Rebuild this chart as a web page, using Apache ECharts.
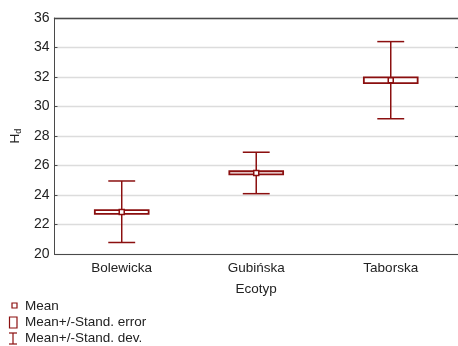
<!DOCTYPE html>
<html><head><meta charset="utf-8">
<script src="https://cdn.jsdelivr.net/npm/echarts@6/dist/echarts.min.js"></script>
<style>html,body{margin:0;padding:0;background:#fff}#c{width:458px;height:346px}</style>
</head><body><div id="c"></div>
<script>
const categories = ['Bolewicka', 'Gubińska', 'Taborska'];
const means  = [22.85, 25.50, 31.78];
const seLow  = [22.72, 25.40, 31.59];
const seHigh = [22.97, 25.61, 31.97];
const sdLow  = [20.78, 24.09, 29.17];
const sdHigh = [24.95, 26.90, 34.40];
const yTicks = { min: 20, max: 36, interval: 2 };

const RED = '#8b0f0f';
const AX = '#4a4a4a';
const TXT = '#222';
const FONT = 'Liberation Sans, Arial, sans-serif';

const chart = echarts.init(document.getElementById('c'));
const data = categories.map((c, i) => [i, means[i], seLow[i], seHigh[i], sdLow[i], sdHigh[i]]);

chart.setOption({
  animation: false,
  textStyle: { fontFamily: FONT },
  grid: { left: 52, right: 0, top: 18, bottom: 92 },
  xAxis: [{
    type: 'category', data: categories, position: 'bottom',
    name: 'Ecotyp', nameLocation: 'middle', nameGap: 28,
    nameTextStyle: { fontSize: 13.5, color: TXT, fontFamily: FONT },
    axisLine: { lineStyle: { color: AX, width: 1 } },
    axisTick: { alignWithLabel: true, inside: true, length: 3, lineStyle: { color: AX } },
    axisLabel: { fontSize: 13.5, color: TXT, margin: 7, fontFamily: FONT },
    splitLine: { show: false }
  }, {
    type: 'category', data: categories, position: 'top',
    axisLine: { lineStyle: { color: AX, width: 1.3 } },
    axisTick: { alignWithLabel: true, inside: true, length: 3, lineStyle: { color: AX } },
    axisLabel: { show: false }
  }],
  yAxis: [{
    type: 'value', min: yTicks.min, max: yTicks.max, interval: yTicks.interval,
    name: '{a|H}{b|d}', nameLocation: 'middle', nameGap: 31, nameRotate: 90,
    nameTextStyle: {
      color: TXT, fontFamily: FONT,
      rich: { a: { fontSize: 13.5, color: TXT, fontFamily: FONT }, b: { fontSize: 9, color: TXT, fontFamily: FONT, padding: [7, 0, 0, 0] } }
    },
    axisLine: { show: true, lineStyle: { color: AX, width: 1 } },
    axisTick: { show: true, inside: true, length: 3, lineStyle: { color: AX } },
    axisLabel: { fontSize: 14, color: TXT, margin: 5, fontFamily: FONT },
    splitLine: { show: true, lineStyle: { color: '#dcdcdc', width: 1.3 } }
  }, {
    type: 'value', position: 'right', min: yTicks.min, max: yTicks.max, interval: yTicks.interval,
    axisLine: { show: true, lineStyle: { color: AX, width: 1 } },
    axisTick: { show: true, inside: true, length: 3, lineStyle: { color: AX } },
    axisLabel: { show: false },
    splitLine: { show: false }
  }],
  series: [{
    type: 'custom',
    xAxisIndex: 0, yAxisIndex: 0,
    data: data,
    renderItem: function (params, api) {
      const i = api.value(0);
      const band = api.size([1, 0])[0];
      const cx = api.coord([i, 0])[0];
      const yM = api.coord([i, api.value(1)])[1];
      const ySL = api.coord([i, api.value(2)])[1];
      const ySH = api.coord([i, api.value(3)])[1];
      const yDL = api.coord([i, api.value(4)])[1];
      const yDH = api.coord([i, api.value(5)])[1];
      const boxW = band * 0.4;
      const capW = band * 0.2;
      const ls = { stroke: RED, lineWidth: 1.5 };
      return {
        type: 'group',
        children: [
          { type: 'line', shape: { x1: cx, y1: yDH, x2: cx, y2: yDL }, style: ls },
          { type: 'line', shape: { x1: cx - capW / 2, y1: yDH, x2: cx + capW / 2, y2: yDH }, style: ls },
          { type: 'line', shape: { x1: cx - capW / 2, y1: yDL, x2: cx + capW / 2, y2: yDL }, style: ls },
          { type: 'rect', shape: { x: cx - boxW / 2, y: ySH, width: boxW, height: ySL - ySH },
            style: { fill: '#fff', stroke: RED, lineWidth: 1.8 } },
          { type: 'rect', shape: { x: cx - 2.5, y: yM - 2.5, width: 5, height: 5 },
            style: { fill: '#fff', stroke: RED, lineWidth: 1.5 } }
        ]
      };
    }
  }],
  graphic: [
    { type: 'rect', shape: { x: 12, y: 303, width: 5, height: 5 }, style: { fill: '#fff', stroke: RED, lineWidth: 1.2 } },
    { type: 'rect', shape: { x: 9.5, y: 317, width: 7.5, height: 11 }, style: { fill: '#fff', stroke: RED, lineWidth: 1.2 } },
    { type: 'line', shape: { x1: 13, y1: 333, x2: 13, y2: 344 }, style: { stroke: RED, lineWidth: 1.2 } },
    { type: 'line', shape: { x1: 9, y1: 333, x2: 17, y2: 333 }, style: { stroke: RED, lineWidth: 1.2 } },
    { type: 'line', shape: { x1: 9, y1: 344, x2: 17, y2: 344 }, style: { stroke: RED, lineWidth: 1.2 } },
    { type: 'text', left: 25, top: 299, style: { text: 'Mean', font: '13.5px ' + FONT, fill: TXT } },
    { type: 'text', left: 25, top: 315.5, style: { text: 'Mean+/-Stand. error', font: '13.5px ' + FONT, fill: TXT } },
    { type: 'text', left: 25, top: 331.5, style: { text: 'Mean+/-Stand. dev.', font: '13.5px ' + FONT, fill: TXT } }
  ]
});
</script></body></html>
